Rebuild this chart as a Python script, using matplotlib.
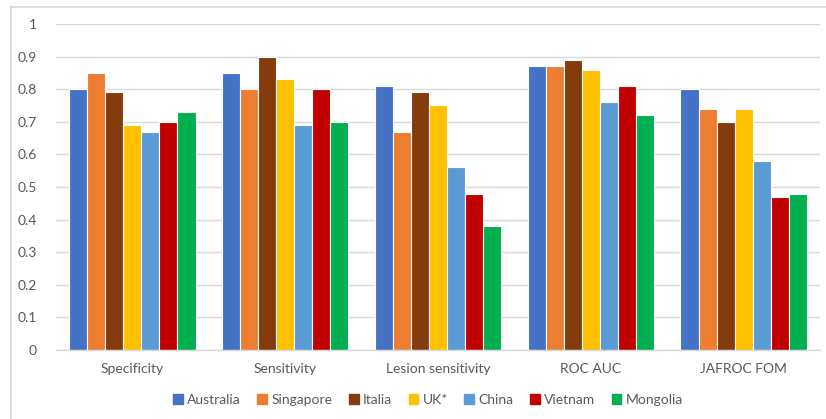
import matplotlib
matplotlib.use("Agg")
import matplotlib.pyplot as plt
from matplotlib.lines import Line2D
import numpy as np

plt.rcParams['font.family'] = ['Lato', 'DejaVu Sans']

categories = ["Specificity", "Sensitivity", "Lesion sensitivity", "ROC AUC", "JAFROC FOM"]
countries = ["Australia", "Singapore", "Italia", "UK*", "China", "Vietnam", "Mongolia"]
colors = ["#4472C4", "#ED7D31", "#843C0C", "#FFC000", "#5B9BD5", "#C00000", "#00B050"]

australia = [0.80, 0.85, 0.81, 0.87, 0.80]
singapore = [0.85, 0.80, 0.67, 0.87, 0.74]
italia = [0.79, 0.90, 0.79, 0.89, 0.70]
uk = [0.69, 0.83, 0.75, 0.86, 0.74]
china = [0.67, 0.69, 0.56, 0.76, 0.58]
vietnam = [0.70, 0.80, 0.48, 0.81, 0.47]
mongolia = [0.73, 0.70, 0.38, 0.72, 0.48]
series = [australia, singapore, italia, uk, china, vietnam, mongolia]

W, H = 826, 419
fig = plt.figure(figsize=(W / 100, H / 100), dpi=100)
ax = fig.add_axes([56 / W, 1 - 350 / H, (820 - 56) / W, (350 - 24) / H])

x = np.arange(len(categories))
bw = 0.118
for i, (vals, col, name) in enumerate(zip(series, colors, countries)):
    offs = (i - 3) * bw
    ax.bar(x + offs, vals, width=bw, color=col, edgecolor="white",
           linewidth=0.8, label=name, zorder=3)

ax.set_xlim(-0.5, len(categories) - 0.5)
ax.set_ylim(0, 1)
ticks = np.round(np.arange(0, 1.01, 0.1), 1)
ax.set_yticks(ticks)
ax.set_yticklabels(["0" if t == 0 else ("1" if t == 1 else f"{t:.1f}") for t in ticks])
ax.set_xticks(x)
ax.set_xticklabels(categories)
ax.grid(axis="y", color="#D9D9D9", linewidth=1.0, zorder=0)
ax.tick_params(axis="both", length=0, labelsize=10, colors="#595959")
ax.tick_params(axis="y", pad=14)
ax.tick_params(axis="x", pad=9)
for s in ["top", "right", "left"]:
    ax.spines[s].set_visible(False)
ax.spines["bottom"].set_color("#D9D9D9")
ax.spines["bottom"].set_linewidth(1.0)
ax.spines["bottom"].set_zorder(4)

handles = [plt.Rectangle((0, 0), 1, 1, color=c) for c in colors]
fig.legend(handles, countries, loc="center", bbox_to_anchor=(428 / W, 1 - 400 / H),
           ncol=7, frameon=False, fontsize=10, handlelength=0.7, handleheight=0.7,
           handletextpad=0.3, columnspacing=1.2, labelcolor="#595959")

# chart-area border (left and top edges)
fig.add_artist(Line2D([11 / W, 11 / W], [0, 1 - 7 / H], color="#D9D9D9", linewidth=1.2,
                      transform=fig.transFigure))
fig.add_artist(Line2D([11 / W, 1], [1 - 7 / H, 1 - 7 / H], color="#D9D9D9", linewidth=1.2,
                      transform=fig.transFigure))

fig.savefig("out.png", dpi=100, facecolor="white")
